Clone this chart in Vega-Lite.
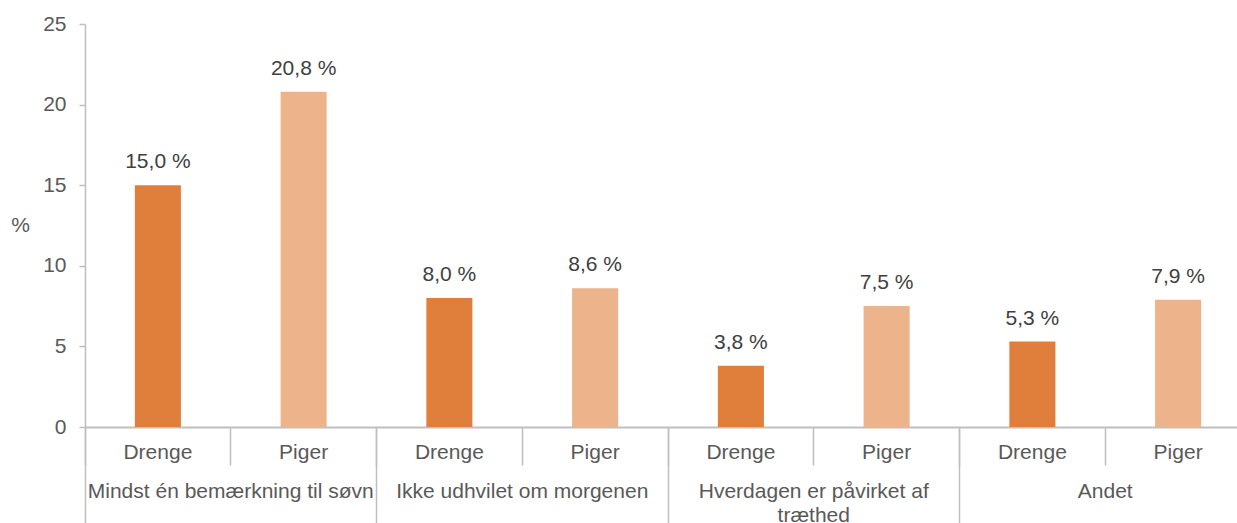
{
  "$schema": "https://vega.github.io/schema/vega-lite/v6.json",
  "autosize": {"type": "none"},
  "padding": {"left": 85, "top": 24, "right": 0, "bottom": 96},
  "width": 1152,
  "height": 403,
  "background": "white",
  "data": {
    "values": [
      {"key": "Mindst én bemærkning til søvn|Drenge", "group": "Mindst én bemærkning til søvn", "gender": "Drenge", "value": 15.0},
      {"key": "Mindst én bemærkning til søvn|Piger", "group": "Mindst én bemærkning til søvn", "gender": "Piger", "value": 20.8},
      {"key": "Ikke udhvilet om morgenen|Drenge", "group": "Ikke udhvilet om morgenen", "gender": "Drenge", "value": 8.0},
      {"key": "Ikke udhvilet om morgenen|Piger", "group": "Ikke udhvilet om morgenen", "gender": "Piger", "value": 8.6},
      {"key": "Hverdagen er påvirket af træthed|Drenge", "group": "Hverdagen er påvirket af træthed", "gender": "Drenge", "value": 3.8},
      {"key": "Hverdagen er påvirket af træthed|Piger", "group": "Hverdagen er påvirket af træthed", "gender": "Piger", "value": 7.5},
      {"key": "Andet|Drenge", "group": "Andet", "gender": "Drenge", "value": 5.3},
      {"key": "Andet|Piger", "group": "Andet", "gender": "Piger", "value": 7.9}
    ]
  },
  "transform": [
    {"calculate": "replace(format(datum.value, '.1f'), '.', ',') + ' %'", "as": "label"}
  ],
  "encoding": {
    "y": {
      "field": "value",
      "type": "quantitative",
      "scale": {"domain": [0, 25], "nice": false},
      "axis": {
        "values": [0, 5, 10, 15, 20, 25],
        "grid": false,
        "domainColor": "#bfbfbf",
        "domainWidth": 1.5,
        "tickColor": "#bfbfbf",
        "tickSize": 6,
        "tickWidth": 1.5,
        "labelFont": "Liberation Sans",
        "labelFontSize": 21,
        "labelColor": "#595959",
        "labelPadding": 13,
        "title": "%",
        "titleFont": "Liberation Sans",
        "titleFontSize": 21,
        "titleFontWeight": "normal",
        "titleColor": "#595959",
        "titleAngle": 0,
        "titleX": -65,
        "titleY": 201,
        "titleAlign": "center",
        "titleBaseline": "middle"
      }
    }
  },
  "layer": [
    {
      "encoding": {
        "x": {
          "field": "key",
          "type": "nominal",
          "sort": null,
          "scale": {"range": [0, 1166], "paddingInner": 0, "paddingOuter": 0},
          "axis": {
            "title": null,
            "bandPosition": 0,
            "labelAngle": 0,
            "labelExpr": "split(datum.label, '|')[1]",
            "labelFont": "Liberation Sans",
            "labelFontSize": 21,
            "labelColor": "#595959",
            "labelBaseline": "top",
            "labelPadding": -24,
            "labelOverlap": false,
            "labelBound": false,
            "labelFlush": false,
            "tickSize": 38,
            "tickColor": "#bfbfbf",
            "tickWidth": 1.5,
            "domainColor": "#bfbfbf",
            "domainWidth": 2,
            "orient": "bottom"
          }
        }
      },
      "layer": [
        {
          "mark": {"type": "bar", "width": {"band": 0.316}},
          "encoding": {
            "color": {
              "field": "gender",
              "type": "nominal",
              "scale": {"domain": ["Drenge", "Piger"], "range": ["#E07E3C", "#EDB38A"]},
              "legend": null
            }
          }
        },
        {
          "mark": {"type": "text", "baseline": "alphabetic", "dy": -17, "font": "Liberation Sans", "fontSize": 21, "color": "#404040"},
          "encoding": {
            "text": {"field": "label", "type": "nominal"}
          }
        }
      ]
    },
    {
      "mark": {"type": "rule", "opacity": 0},
      "encoding": {
        "x": {
          "field": "group",
          "type": "nominal",
          "sort": null,
          "scale": {"range": [0, 1166], "paddingInner": 0, "paddingOuter": 0},
          "axis": {
            "title": null,
            "orient": "bottom",
            "domain": false,
            "bandPosition": 0,
            "labelAngle": 0,
            "labelExpr": "datum.label == 'Hverdagen er påvirket af træthed' ? ['Hverdagen er påvirket af', 'træthed'] : datum.label",
            "labelFont": "Liberation Sans",
            "labelFontSize": 21,
            "labelColor": "#595959",
            "labelBaseline": "top",
            "labelLineHeight": 24,
            "labelPadding": -43,
            "labelOverlap": false,
            "labelBound": false,
            "labelFlush": false,
            "labelLimit": 0,
            "tickSize": 96,
            "tickColor": "#bfbfbf",
            "tickWidth": 1.5
          }
        }
      }
    }
  ],
  "resolve": {"scale": {"x": "independent"}, "axis": {"x": "independent"}},
  "config": {"view": {"stroke": null}}
}
